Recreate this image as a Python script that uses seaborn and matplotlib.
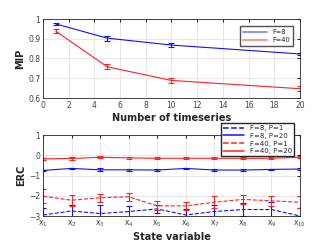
import numpy as np
import pandas as pd
import matplotlib
matplotlib.use('Agg')
import matplotlib.pyplot as plt
import seaborn as sns

# date grafic sus
n_ts = [1, 5, 10, 20]
mip_f8 = [0.975, 0.903, 0.868, 0.823]
mip_f8_err = [0.005, 0.012, 0.011, 0.006]
mip_f40 = [0.938, 0.758, 0.689, 0.647]
mip_f40_err = [0.011, 0.013, 0.013, 0.013]

# date grafic jos
state_vars = list(range(1, 11))
state_labels = [f'x$_{{{i}}}$' for i in state_vars]
erc_f8_p1 = [-2.95, -2.75, -2.88, -2.78, -2.65, -2.95, -2.78, -2.68, -2.68, -3.0]
erc_f8_p1_err = [0.35, 0.3, 0.4, 0.25, 0.2, 0.3, 0.3, 0.3, 0.35, 0.4]
erc_f8_p20 = [-0.75, -0.65, -0.72, -0.72, -0.73, -0.65, -0.73, -0.73, -0.70, -0.68]
erc_f8_p20_err = [0.04, 0.04, 0.07, 0.05, 0.05, 0.04, 0.06, 0.05, 0.04, 0.05]
erc_f40_p1 = [-2.02, -2.22, -2.1, -2.05, -2.5, -2.5, -2.32, -2.18, -2.25, -2.32]
erc_f40_p1_err = [0.33, 0.27, 0.2, 0.2, 0.22, 0.2, 0.3, 0.22, 0.25, 0.3]
erc_f40_p20 = [-0.18, -0.16, -0.1, -0.13, -0.15, -0.15, -0.15, -0.15, -0.15, -0.1]
erc_f40_p20_err = [0.04, 0.05, 0.05, 0.05, 0.04, 0.04, 0.04, 0.04, 0.04, 0.04]

sns.set_style('whitegrid', {'grid.color': '#e3e3e3', 'axes.edgecolor': '#262626'})
plt.rcParams['font.family'] = ['DejaVu Sans']

fig = plt.figure(figsize=(3.32, 2.49), dpi=100)
ax1 = fig.add_axes([43 / 332, 1 - 98 / 249, 257 / 332, 79 / 249])
ax2 = fig.add_axes([43 / 332, 1 - 216 / 249, 257 / 332, 81 / 249])

blue = '#1010ff'
red = '#ff2020'

# sus
for y, e, c, lab in [(mip_f8, mip_f8_err, blue, 'F=8'), (mip_f40, mip_f40_err, red, 'F=40')]:
    sns.lineplot(x=n_ts, y=y, ax=ax1, color=c, lw=0.8, label=lab)
    ax1.errorbar(n_ts, y, yerr=e, fmt='none', ecolor=c, elinewidth=0.8, capsize=2, capthick=0.8)
ax1.set_xlim(0, 20)
ax1.set_ylim(0.6, 1)
ax1.set_xticks(range(0, 21, 2))
ax1.set_yticks([0.6, 0.7, 0.8, 0.9, 1])
ax1.set_yticklabels(['0.6', '0.7', '0.8', '0.9', '1'])
ax1.set_xlabel('Number of timeseries', fontsize=7, fontweight='bold', labelpad=2)
ax1.set_ylabel('MIP', fontsize=7, fontweight='bold', labelpad=2)
leg1 = ax1.legend(loc='upper right', bbox_to_anchor=(0.985, 0.95), fontsize=4.8, frameon=True,
                  fancybox=False, edgecolor='#262626', handlelength=3.6, borderpad=0.4, labelspacing=0.35)
for h in leg1.get_lines():
    h.set_linewidth(1.3)
    h.set_alpha(0.5)

# jos
series = [
    (erc_f8_p1, erc_f8_p1_err, blue, '--', 'F=8, P=1'),
    (erc_f8_p20, erc_f8_p20_err, blue, '-', 'F=8, P=20'),
    (erc_f40_p1, erc_f40_p1_err, red, '--', 'F=40, P=1'),
    (erc_f40_p20, erc_f40_p20_err, red, '-', 'F=40, P=20'),
]
for y, e, c, ls, lab in series:
    sns.lineplot(x=state_vars, y=y, ax=ax2, color=c, lw=0.8, linestyle=ls, label=lab)
    ax2.errorbar(state_vars, y, yerr=e, fmt='none', ecolor=c, elinewidth=0.8, capsize=2, capthick=0.8)
ax2.set_xlim(1, 10)
ax2.set_ylim(-3, 1)
ax2.set_xticks(state_vars)
ax2.set_xticklabels(state_labels)
ax2.set_yticks([-3, -2, -1, 0, 1])
ax2.set_xlabel('State variable', fontsize=7, fontweight='bold', labelpad=2)
ax2.set_ylabel('ERC', fontsize=7, fontweight='bold', labelpad=2)
leg2 = ax2.legend(loc='upper right', bbox_to_anchor=(0.99, 1.19), fontsize=5, frameon=True, fancybox=False,
                  edgecolor='#262626', framealpha=1, handlelength=3, borderpad=0.3, labelspacing=0.25)
for h in leg2.get_lines():
    h.set_linewidth(1.1)

for ax in (ax1, ax2):
    ax.tick_params(labelsize=5.5, length=2, pad=2, colors='#262626', labelcolor='#404040',
                   direction='in', top=True, right=True)
    for s in ax.spines.values():
        s.set_linewidth(0.6)
    ax.grid(True, lw=0.6)

fig.savefig('out.png', dpi=100)
